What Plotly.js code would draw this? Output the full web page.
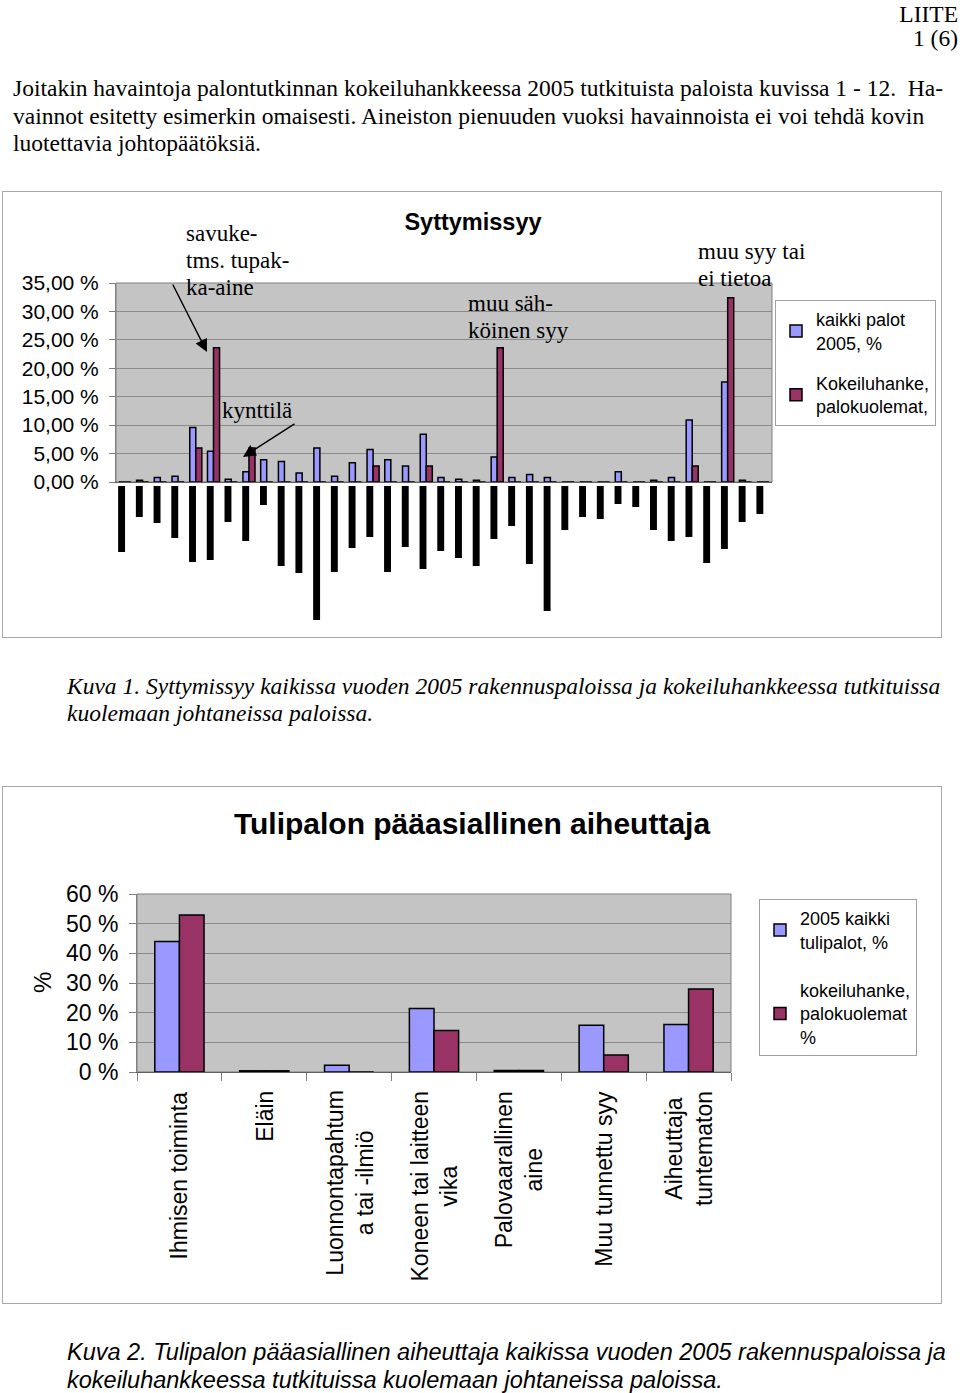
<!DOCTYPE html>
<html>
<head>
<meta charset="utf-8">
<script src="https://cdn.plot.ly/plotly-3.0.1.min.js"></script>
<style>
  body { margin: 0; background: #fff; }
  #page { position: relative; width: 960px; height: 1393px; overflow: hidden; }
  .serif { font-family: 'Liberation Serif', 'Times New Roman', serif; font-size: 23.5px; color: #000; position: absolute; white-space: nowrap; }
  .sans { font-family: 'Liberation Sans', Arial, sans-serif; font-size: 23.5px; color: #000; position: absolute; white-space: nowrap; }
  .frame { position: absolute; border: 1px solid #a8a8a8; }
</style>
</head>
<body>
<div id="page">
  <div class="serif" style="right:2px; top:2px; text-align:right; line-height:24px;">LIITE<br>1 (6)</div>
  <div class="serif" style="left:13px; top:75px; line-height:27.5px;">
    Joitakin havaintoja palontutkinnan kokeiluhankkeessa 2005 tutkituista paloista kuvissa 1 - 12.&nbsp; Ha-<br>
    vainnot esitetty esimerkin omaisesti. Aineiston pienuuden vuoksi havainnoista ei voi tehdä kovin<br>
    luotettavia johtopäätöksiä.
  </div>

  <div class="frame" style="left:2px; top:191px; width:938px; height:445px;">
    <div id="chart1"></div>
  </div>

  <div class="serif" style="left:67px; top:673px; line-height:27px; font-style:italic;">
    Kuva 1. Syttymissyy kaikissa vuoden 2005 rakennuspaloissa ja kokeiluhankkeessa tutkituissa<br>
    kuolemaan johtaneissa paloissa.
  </div>

  <div class="frame" style="left:2px; top:786px; width:938px; height:516px;">
    <div id="chart2"></div>
  </div>

  <div class="sans" style="left:67px; top:1338px; line-height:28px; font-style:italic;">
    Kuva 2. Tulipalon pääasiallinen aiheuttaja kaikissa vuoden 2005 rakennuspaloissa ja<br>
    kokeiluhankkeessa tutkituissa kuolemaan johtaneissa paloissa.
  </div>
</div>

<script>
// ---- Kuva 1: syttymissyy (37 luokkaa, nimet peitetty mustilla palkeilla) ----
const causeIdx = [1, 2, 3, 4, 5, 6, 7, 8, 9, 10, 11, 12, 13, 14, 15, 16, 17, 18, 19,
                  20, 21, 22, 23, 24, 25, 26, 27, 28, 29, 30, 31, 32, 33, 34, 35, 36, 37];
const allFires2005 = [0, 0.3, 0.8, 1.0, 9.6, 5.4, 0.5, 1.8, 3.9, 3.6, 1.6, 6.0, 1.0, 3.4, 5.7, 3.9, 2.8, 8.4, 0.8,
                      0.5, 0.3, 4.4, 0.8, 1.3, 0.8, 0, 0, 0, 1.8, 0, 0.3, 0.8, 10.9, 0, 17.6, 0.3, 0];
const pilotDeaths = [0, 0, 0, 0, 6.0, 23.6, 0, 6.0, 0, 0, 0, 0, 0, 0, 2.8, 0, 0, 2.8, 0,
                     0, 0, 23.6, 0, 0, 0, 0, 0, 0, 0, 0, 0, 0, 2.8, 0, 32.4, 0, 0];
// length of the blacked-out category labels under the axis
const hiddenLabelLen = [66, 31, 37, 52, 76, 74, 36, 55, 19, 80, 87, 134, 86, 62, 51, 86, 61, 83, 65,
                        72, 80, 53, 40, 78, 125, 44, 31, 33, 18, 21, 44, 55, 51, 77, 63, 36, 28];

// ---- Kuva 2: tulipalon pääasiallinen aiheuttaja ----
const mainCauses = ['Ihmisen toiminta', 'Eläin', 'Luonnontapahtuma tai -ilmiö', 'Koneen tai laitteen vika',
                    'Palovaarallinen aine', 'Muu tunnettu syy', 'Aiheuttaja tuntematon'];
const mainCauseLabels = ['Ihmisen toiminta', 'Eläin', 'Luonnontapahtum<br>a tai -ilmiö', 'Koneen tai laitteen<br>vika',
                         'Palovaarallinen<br>aine', 'Muu tunnettu syy', 'Aiheuttaja<br>tuntematon'];
const allFiresMain = [44.0, 0.4, 2.3, 21.4, 0.5, 15.8, 16.0];
const pilotDeathsMain = [52.9, 0.4, 0, 14.0, 0.5, 5.7, 28.0];

const BLUE = '#9999FF', WINE = '#993366', PLOTGRAY = '#c4c4c4', GRID = '#8a8a8a';
const SANS = 'Liberation Sans, Arial, sans-serif';
const SERIF = 'Liberation Serif, Times New Roman, serif';

// page pixel -> paper coords for chart 1 (plot area 116..772 x 283..625)
const fx1 = X => (X - 116) / (772 - 116);
const fy1 = Y => (625 - Y) / (625 - 283);

const traces1 = [
    { x: causeIdx, y: allFires2005, name: 'kaikki palot<br>2005, %', type: 'bar', legendgroup: 'a',
      marker: { color: BLUE, line: { color: '#000', width: 1.5 } } },
    { x: causeIdx, y: pilotDeaths, name: 'Kokeiluhanke,<br>palokuolemat,', type: 'bar', legendgroup: 'b',
      marker: { color: WINE, line: { color: '#000', width: 1.5 } } },
    { x: causeIdx, y: hiddenLabelLen.map(v => -v), yaxis: 'y2', type: 'bar', showlegend: false,
      width: 0.39, offset: -0.38, marker: { color: '#000', line: { width: 0 } } }
];

// callout text, one annotation per line so the line spacing matches (27px)
const textLines = (lines, X, Y0) => lines.map((t, i) => ({
    text: t, x: fx1(X), y: fy1(Y0 + i * 27), xref: 'paper', yref: 'paper', showarrow: false,
    xanchor: 'left', yanchor: 'middle', font: { family: SERIF, size: 23, color: '#000' }
}));
const arrow = (hx, hy, tx, ty) => ({
    text: '', x: fx1(hx), y: fy1(hy), xref: 'paper', yref: 'paper', showarrow: true,
    ax: tx - hx, ay: ty - hy, arrowhead: 2, arrowsize: 1.8, arrowwidth: 1.4, arrowcolor: '#000'
});

const layout1 = {
    width: 938, height: 445,
    margin: { l: 113, r: 169, t: 91, b: 12, autoexpand: false },
    paper_bgcolor: '#fff', plot_bgcolor: 'rgba(0,0,0,0)',
    font: { family: SANS, color: '#000', size: 18 },
    separators: ', ',
    title: { text: '<b>Syttymissyy</b>', font: { family: SANS, size: 23.5, color: '#000' },
             x: fx1(473), xref: 'paper', xanchor: 'center', y: 1 - (221.7 - 192) / 445, yanchor: 'middle' },
    barmode: 'group', bargap: 0.32, bargroupgap: 0,
    xaxis: { range: [0.5, 37.5], showticklabels: false, ticks: '', showgrid: false, zeroline: false,
             showline: true, linecolor: '#606060', linewidth: 1, anchor: 'y', fixedrange: true },
    yaxis: { domain: [fy1(482), 1], range: [0, 35], dtick: 5, tickformat: '.2f', ticksuffix: ' %',
             showgrid: true, gridcolor: GRID, gridwidth: 1, zeroline: false,
             showline: true, linecolor: '#808080', ticks: 'outside', ticklen: 6, tickcolor: '#808080',
             ticklabelstandoff: 6, tickfont: { family: SANS, size: 21, color: '#000' }, fixedrange: true },
    yaxis2: { domain: [0, fy1(486)], range: [-139, 0], anchor: 'x', showgrid: false, zeroline: false,
              showticklabels: false, ticks: '', showline: false, fixedrange: true },
    shapes: [
        { type: 'rect', xref: 'x domain', yref: 'y domain', x0: 0, x1: 1, y0: 0, y1: 1,
          fillcolor: PLOTGRAY, line: { color: '#808080', width: 1 }, layer: 'below' }
    ],
    legend: { x: fx1(775), y: fy1(300), xanchor: 'left', yanchor: 'top', bgcolor: '#fff',
              bordercolor: '#a0a0a0', borderwidth: 1, font: { family: SANS, size: 18, color: '#000' },
              traceorder: 'grouped', tracegroupgap: 14 },
    annotations: [
        ...textLines(['savuke-', 'tms. tupak-', 'ka-aine'], 184, 233),
        arrow(207, 352, 172, 283),
        ...textLines(['kynttilä'], 220, 410),
        arrow(243, 457, 296, 423),
        ...textLines(['muu säh-', 'köinen syy'], 466, 303),
        ...textLines(['muu syy tai', 'ei tietoa'], 696, 251)
    ]
};

Plotly.newPlot('chart1', traces1, layout1, { displayModeBar: false, staticPlot: true });

// ---- chart 2 ----  plot area 137..731 x 894..1072 (page px)
const fx2 = X => (X - 137) / (731 - 137);
const fy2 = Y => (1072 - Y) / (1072 - 894);

const traces2 = [
    { x: mainCauses, y: allFiresMain, name: '2005 kaikki<br>tulipalot, %', type: 'bar', legendgroup: 'a',
      marker: { color: BLUE, line: { color: '#000', width: 1.5 } } },
    { x: mainCauses, y: pilotDeathsMain, name: 'kokeiluhanke,<br>palokuolemat<br>%', type: 'bar', legendgroup: 'b',
      marker: { color: WINE, line: { color: '#000', width: 1.5 } } }
];

// rotated category labels, centred line by line like the original
const catLabels = mainCauses.map((c, i) => ({
    text: mainCauseLabels[i], x: c, xref: 'x', y: fy2(1089), yref: 'paper', yanchor: 'top', xanchor: 'center',
    showarrow: false, textangle: -90, align: 'center', font: { family: SANS, size: 23, color: '#000' }
}));

const layout2 = {
    width: 938, height: 516,
    margin: { l: 134, r: 210, t: 107, b: 231, autoexpand: false },
    paper_bgcolor: '#fff', plot_bgcolor: PLOTGRAY,
    font: { family: SANS, color: '#000', size: 18 },
    title: { text: '<b>Tulipalon pääasiallinen aiheuttaja</b>', font: { family: SANS, size: 30, color: '#000' },
             x: fx2(472), xref: 'paper', xanchor: 'center', y: 1 - (823 - 787) / 516, yanchor: 'middle' },
    barmode: 'group', bargap: 0.42, bargroupgap: 0,
    xaxis: { type: 'category', tickson: 'boundaries', ticks: 'outside', ticklen: 8, tickcolor: '#808080',
             showline: true, linecolor: '#606060', showgrid: false, showticklabels: false, fixedrange: true },
    yaxis: { range: [0, 60], dtick: 10, ticksuffix: ' %', showgrid: true, gridcolor: GRID, zeroline: false,
             showline: true, linecolor: '#808080', ticks: 'outside', ticklen: 7, tickcolor: '#808080',
             ticklabelstandoff: 6, tickfont: { family: SANS, size: 23, color: '#000' }, fixedrange: true },
    shapes: [
        { type: 'rect', xref: 'paper', yref: 'paper', x0: 0, x1: 1, y0: 0, y1: 1,
          line: { color: '#808080', width: 1 }, fillcolor: 'rgba(0,0,0,0)', layer: 'below' }
    ],
    legend: { x: fx2(759), y: fy2(899), xanchor: 'left', yanchor: 'top', bgcolor: '#fff',
              bordercolor: '#a0a0a0', borderwidth: 1, font: { family: SANS, size: 18, color: '#000' },
              traceorder: 'grouped', tracegroupgap: 22 },
    annotations: [
        { text: '%', x: fx2(42), y: fy2(983), xref: 'paper', yref: 'paper', showarrow: false,
          xanchor: 'center', yanchor: 'middle',
          textangle: -90, font: { family: SANS, size: 24, color: '#000' } },
        ...catLabels
    ]
};

Plotly.newPlot('chart2', traces2, layout2, { displayModeBar: false, staticPlot: true });
</script>
</body>
</html>
